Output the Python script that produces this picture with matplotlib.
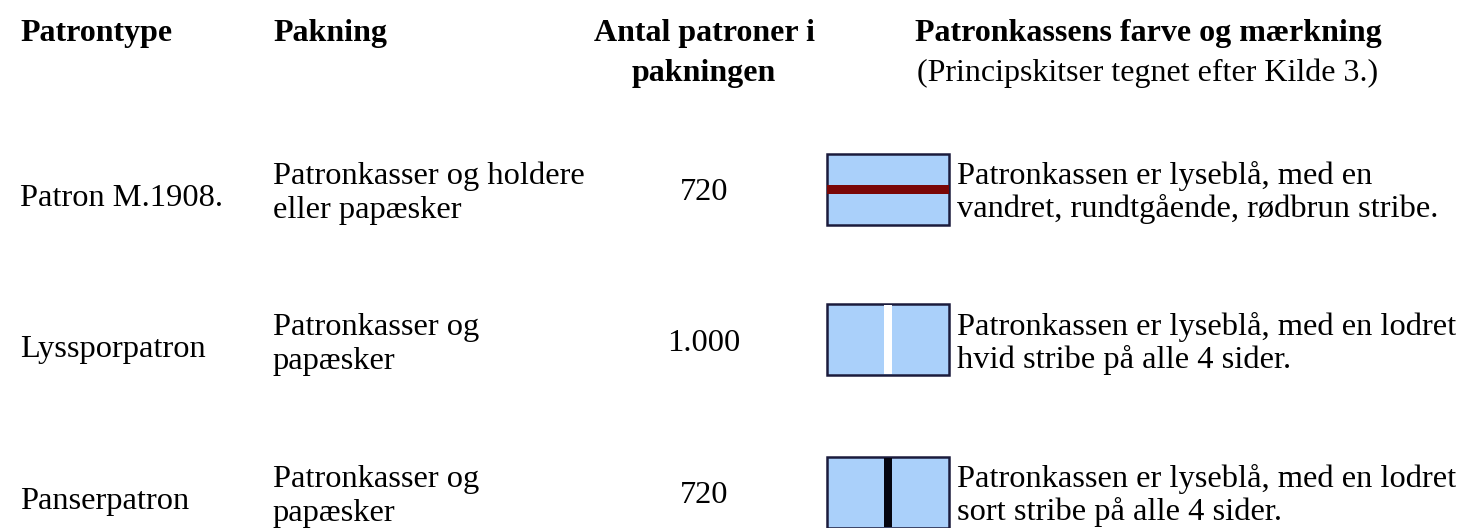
import matplotlib
matplotlib.use("Agg")
import matplotlib.pyplot as plt
from matplotlib.patches import Rectangle

# ---- data ----
headers = ["Patrontype", "Pakning", "Antal patroner i\npakningen",
           "Patronkassens farve og mærkning"]
header_note = "(Principskitser tegnet efter Kilde 3.)"
patrontyper = ["Patron M.1908.", "Lyssporpatron", "Panserpatron"]
pakning = [["Patronkasser og holdere", "eller papæsker"],
           ["Patronkasser og", "papæsker"],
           ["Patronkasser og", "papæsker"]]
antal = ["720", "1.000", "720"]
beskrivelse = [["Patronkassen er lyseblå, med en", "vandret, rundtgående, rødbrun stribe."],
               ["Patronkassen er lyseblå, med en lodret", "hvid stribe på alle 4 sider."],
               ["Patronkassen er lyseblå, med en lodret", "sort stribe på alle 4 sider."]]
stribe_retning = ["vandret", "lodret", "lodret"]

# ---- styles / layout (pixels) ----
stripe_colors = ["#7a0606", "#ffffff", "#05050f"]
W, H = 1468, 528
fig = plt.figure(figsize=(W / 100, H / 100), dpi=100)
ax = fig.add_axes([0, 0, 1, 1])
ax.set_xlim(0, W)
ax.set_ylim(H, 0)
ax.axis("off")

FONT = ["Liberation Serif", "DejaVu Serif"]
FS = 23.4
FSH = 23
col_x = [20, 273, 704, 1148]
row_center = [190, 341, 493]
box_top = [154, 304, 457]
box_h = 71
box_x0, box_x1 = 827, 949
base_off = 8  # baseline offset from visual centre

def txt(x, y, s, ha="left", bold=False, fs=FS):
    ax.text(x, y + base_off, s, ha=ha, va="baseline", fontsize=fs,
            family=FONT, fontweight="bold" if bold else "normal", color="black")

# header
txt(col_x[0], 33, headers[0], bold=True, fs=FSH)
txt(col_x[1], 33, headers[1], bold=True, fs=FSH)
l1, l2 = headers[2].split("\n")
txt(col_x[2], 33, l1, ha="center", bold=True, fs=FSH)
txt(col_x[2], 73, l2, ha="center", bold=True, fs=FSH)
txt(col_x[3], 33, headers[3], ha="center", bold=True, fs=FSH)
txt(col_x[3], 73, header_note, ha="center", fs=FSH)

for i in range(3):
    yc = row_center[i]
    txt(col_x[0], yc + 8, patrontyper[i])
    txt(col_x[1], yc - 14, pakning[i][0])
    txt(col_x[1], yc + 20, pakning[i][1])
    txt(col_x[2], yc + 2, antal[i], ha="center")
    txt(957, yc - 14, beskrivelse[i][0])
    txt(957, yc + 19, beskrivelse[i][1])

    # box
    bt = box_top[i]
    ax.add_patch(Rectangle((box_x0, bt), box_x1 - box_x0, box_h,
                           facecolor="#aad0fa", edgecolor="#1b1b3c", linewidth=1.8,
                           zorder=2))
    if stribe_retning[i] == "vandret":
        ax.add_patch(Rectangle((box_x0, bt + 31), box_x1 - box_x0, 9,
                               facecolor=stripe_colors[i], edgecolor="none", zorder=3))
    else:
        ax.add_patch(Rectangle((884, bt + 1), 8, box_h - 2,
                               facecolor=stripe_colors[i], edgecolor="none", zorder=3))

fig.savefig("out.png", dpi=100)
